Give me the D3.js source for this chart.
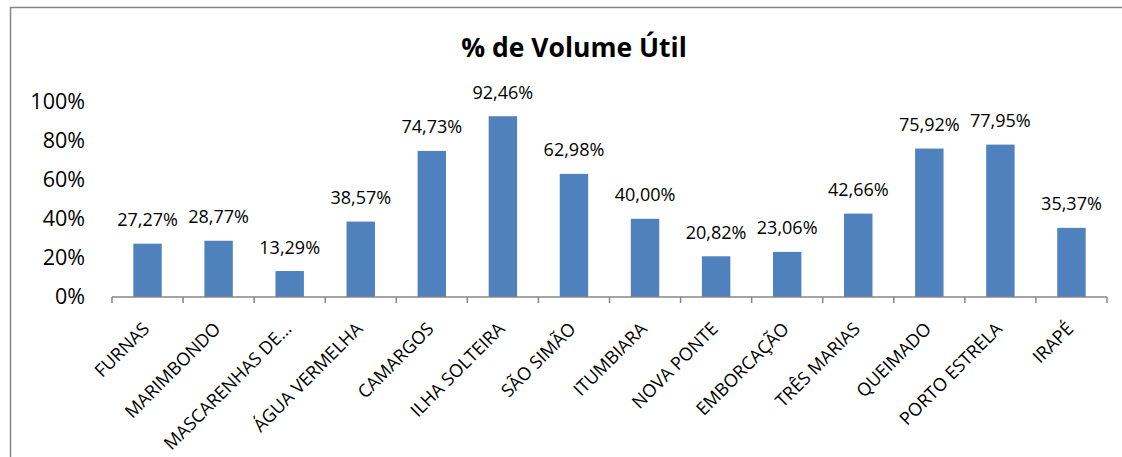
<!DOCTYPE html>
<html><head><meta charset="utf-8">
<script src="https://cdn.jsdelivr.net/npm/d3@7/dist/d3.min.js"></script>
<style>
html,body{margin:0;padding:0;background:#fff;}
text{font-family:"Open Sans", sans-serif;fill:#000;}
</style></head>
<body><svg id="c" width="1122" height="457"></svg>
<script>
const categories = ["FURNAS","MARIMBONDO","MASCARENHAS DE...","ÁGUA VERMELHA","CAMARGOS","ILHA SOLTEIRA","SÃO SIMÃO","ITUMBIARA","NOVA PONTE","EMBORCAÇÃO","TRÊS MARIAS","QUEIMADO","PORTO ESTRELA","IRAPÉ"];
const values = [27.27,28.77,13.29,38.57,74.73,92.46,62.98,40.00,20.82,23.06,42.66,75.92,77.95,35.37];
const yTicks = [0,20,40,60,80,100];
const title = "% de Volume Útil";

const svg = d3.select("#c");
svg.append("rect").attr("x",10.5).attr("y",7.5).attr("width",1130).attr("height",470)
  .attr("fill","#fff").attr("stroke","#868686").attr("stroke-width",1.5);

const x = d3.scaleBand().domain(categories).range([112,1107]).paddingInner(0.6).paddingOuter(0.3);
const y = d3.scaleLinear().domain([0,100]).range([297,101.5]);

svg.append("text").attr("x",574).attr("y",57).attr("text-anchor","middle")
  .attr("font-size",26.5).attr("font-weight","bold").text(title);

// y axis labels
const fmtPct = d => d + "%";
const ya = svg.append("g").attr("transform","translate(112,0)")
  .call(d3.axisLeft(y).tickValues(yTicks).tickFormat(fmtPct).tickSize(0).tickPadding(27));
ya.select(".domain").remove();
ya.selectAll("text").attr("font-size",21.5).style("font-family","'Open Sans', sans-serif");

// bars
svg.selectAll("rect.bar").data(values).enter().append("rect").attr("class","bar")
  .attr("x",(d,i)=>x(categories[i])).attr("width",x.bandwidth())
  .attr("y",d=>y(d)).attr("height",d=>y(0)-y(d)).attr("fill","#4f81bd");

// data labels
const fmtVal = d => d.toFixed(2).replace(".",",") + "%";
svg.selectAll("text.lbl").data(values).enter().append("text").attr("class","lbl")
  .attr("x",(d,i)=>x(categories[i])+x.bandwidth()/2).attr("y",d=>y(d)-17.5)
  .attr("text-anchor","middle").attr("font-size",18).text(fmtVal);

// x axis
const xa = svg.append("g").attr("transform","translate(0,297)");
xa.append("line").attr("x1",112).attr("x2",1107).attr("stroke","#868686").attr("stroke-width",1.5);
const bounds = d3.range(categories.length+1).map(i=>112 + i*(995/categories.length));
xa.selectAll("line.tk").data(bounds).enter().append("line").attr("class","tk")
  .attr("x1",d=>d).attr("x2",d=>d).attr("y1",0).attr("y2",6).attr("stroke","#868686").attr("stroke-width",1.5);
xa.selectAll("text").data(categories).enter().append("text")
  .attr("transform",d=>`translate(${x(d)+x.bandwidth()/2+3},${33}) rotate(-45)`)
  .attr("text-anchor","end").attr("font-size",18).text(d=>d);
</script></body></html>
